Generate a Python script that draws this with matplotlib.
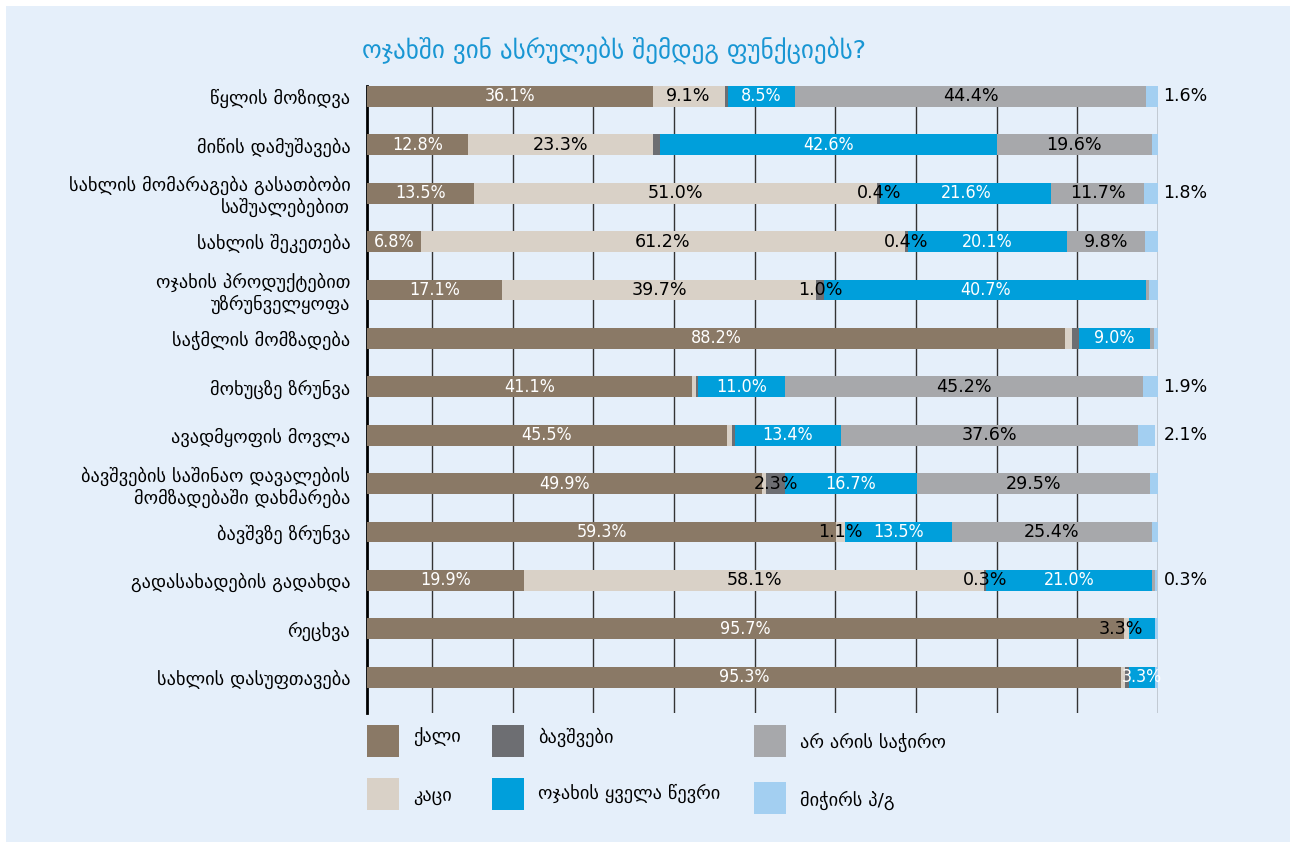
import numpy as np
import matplotlib
matplotlib.use("Agg")
import matplotlib.pyplot as plt
from matplotlib.patches import Rectangle

plt.rcParams['font.family'] = ['DejaVu Sans']

# rows, top to bottom
tasks = [
    "წყლის მოზიდვა",
    "მიწის დამუშავება",
    "სახლის მომარაგება გასათბობი\nსაშუალებებით",
    "სახლის შეკეთება",
    "ოჯახის პროდუქტებით\nუზრუნველყოფა",
    "საჭმლის მომზადება",
    "მოხუცზე ზრუნვა",
    "ავადმყოფის მოვლა",
    "ბავშვების საშინაო დავალების\nმომზადებაში დახმარება",
    "ბავშვზე ზრუნვა",
    "გადასახადების გადახდა",
    "რეცხვა",
    "სახლის დასუფთავება",
]

groups = ["ქალი", "კაცი", "ბავშვები", "ოჯახის ყველა წევრი", "არ არის საჭირო", "მიჭირს პ/გ"]
colors = ["#8A7966", "#D9D1C7", "#6D6E72", "#009FDB", "#A7A8AB", "#A3CFF1"]

woman    = [36.1, 12.8, 13.5,  6.8, 17.1, 88.2, 41.1, 45.5, 49.9, 59.3, 19.9, 95.7, 95.3]
man      = [ 9.1, 23.3, 51.0, 61.2, 39.7,  0.9,  0.5,  0.6,  0.6,  1.1, 58.1,  0.6,  0.5]
children = [ 0.4,  0.9,  0.4,  0.4,  1.0,  0.9,  0.3,  0.4,  2.3,  0.0,  0.3,  0.0,  0.5]
family   = [ 8.5, 42.6, 21.6, 20.1, 40.7,  9.0, 11.0, 13.4, 16.7, 13.5, 21.0,  3.3,  3.3]
notneed  = [44.4, 19.6, 11.7,  9.8,  0.3,  0.5, 45.2, 37.6, 29.5, 25.4,  0.3,  0.0,  0.0]
hard     = [ 1.6,  0.8,  1.8,  1.7,  1.2,  0.5,  1.9,  2.1,  1.0,  0.7,  0.3,  0.4,  0.4]

# which value labels are printed (1 = yes), per series
show_woman    = [1, 1, 1, 1, 1, 1, 1, 1, 1, 1, 1, 1, 1]
show_man      = [1, 1, 1, 1, 1, 0, 0, 0, 0, 1, 1, 0, 0]
show_children = [0, 0, 1, 1, 1, 0, 0, 0, 1, 0, 1, 0, 0]
show_family   = [1, 1, 1, 1, 1, 1, 1, 1, 1, 1, 1, 1, 1]
show_notneed  = [1, 1, 1, 1, 0, 0, 1, 1, 1, 1, 0, 0, 0]
show_hard     = [1, 0, 1, 0, 0, 0, 1, 1, 0, 0, 1, 0, 0]

series = [woman, man, children, family, notneed, hard]
shows = [show_woman, show_man, show_children, show_family, show_notneed, show_hard]
label_colors = ["white", "black", "black", "white", "black", "black"]

W, H = 1292, 842
fig = plt.figure(figsize=(W / 100, H / 100), dpi=100, facecolor="white")
fig.add_artist(Rectangle((6 / W, 0), 1284 / W, 836 / H, transform=fig.transFigure,
                         facecolor="#E5EFFA", edgecolor="none", zorder=-10))

ax = fig.add_axes([367 / W, 129 / H, 791 / W, 627 / H])
ax.set_facecolor("none")

y = np.arange(len(tasks))
left = np.zeros(len(tasks))
for k, vals in enumerate(series):
    vals = np.array(vals)
    ax.barh(y, vals, left=left, height=0.43, color=colors[k], zorder=3)
    for i in range(len(tasks)):
        if not shows[k][i]:
            continue
        txt = f"{vals[i]:.1f}%"
        if k == 5:
            ax.text(100.7, y[i], txt, ha="left", va="center", fontsize=12.5, color="black")
            continue
        c = label_colors[k]
        xc = left[i] + vals[i] / 2
        if k == 3 and i == 11:
            # this one is printed in black, a bit to the left
            c = "black"
            xc = left[i] - 1.0
        if c == "white":
            ax.text(xc, y[i], txt, ha="center", va="center", fontsize=12.8,
                    color=c, zorder=5, fontstretch="condensed")
        else:
            ax.text(xc, y[i], txt, ha="center", va="center", fontsize=12.6,
                    color=c, zorder=5)
    left += vals

ax.set_xlim(0, 100)
ax.set_ylim(12.74, -0.215)
ax.set_xticks(np.linspace(100 - 9 * 10.2, 100, 10))
ax.grid(axis="x", color="#333333", linewidth=1, zorder=0)
ax.tick_params(axis="x", bottom=False, labelbottom=False)
ax.set_yticks(y)
ax.set_yticklabels(tasks, fontsize=13.2, linespacing=1.17)
ax.tick_params(axis="y", length=0, pad=12)
for s in ["top", "right", "bottom"]:
    ax.spines[s].set_visible(False)
ax.spines["left"].set_color("black")
ax.spines["left"].set_linewidth(2)

fig.text(614 / W, 1 - 50 / H, "ოჯახში ვინ ასრულებს შემდეგ ფუნქციებს?", ha="center", va="center",
         fontsize=18, color="#1996D3")

# legend, drawn by hand to keep the staggered layout
leg_pos = [(367, 725), (367, 778), (492, 725), (492, 778), (754, 725), (754, 782)]
text_y = [737, 796, 737, 793, 742, 800]
for k in range(6):
    x0, y0 = leg_pos[k]
    fig.add_artist(Rectangle((x0 / W, 1 - (y0 + 32) / H), 32 / W, 32 / H,
                             transform=fig.transFigure, facecolor=colors[k], edgecolor="none"))
    fig.text((x0 + 46) / W, 1 - text_y[k] / H, groups[k], ha="left", va="center", fontsize=13.2)

fig.savefig("out.png", dpi=100, facecolor="white")
